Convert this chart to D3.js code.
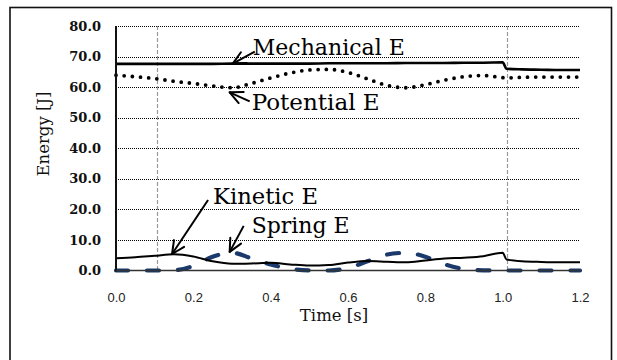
<!DOCTYPE html>
<html><head><meta charset="utf-8">
<script src="https://cdn.jsdelivr.net/npm/d3@7/dist/d3.min.js"></script>
<style>
html,body{margin:0;padding:0;background:#fff;}
svg{display:block;}
</style>
</head><body>
<svg id="chart" width="617" height="360"></svg>
<script>
// ---- data ----
const time      = [0,0.05,0.1,0.15,0.2,0.25,0.3,0.35,0.4,0.45,0.5,0.55,0.6,0.65,0.7,0.75,0.8,0.85,0.9,0.95,1.0,1.01,1.05,1.1,1.15,1.2];
const mechanical= [67.6,67.6,67.6,67.6,67.6,67.6,67.7,67.7,67.7,67.7,67.7,67.8,67.8,67.8,67.8,67.9,67.9,67.9,68.0,68.0,68.1,66.0,65.8,65.7,65.6,65.6];
const potential = [63.9,63.4,62.8,61.9,61.2,60.4,59.8,61.2,63.0,64.6,65.6,65.8,64.8,62.7,60.6,59.8,60.8,62.3,63.4,63.8,63.1,63.0,63.2,63.3,63.3,63.3];
const kinetic   = [4.0,4.3,4.8,5.3,4.6,3.0,2.2,2.3,2.5,2.0,1.6,1.8,2.6,3.1,2.9,2.7,3.3,3.9,4.2,4.7,5.8,3.6,3.0,2.8,2.7,2.7];
const spring    = [0,0,0,0.1,1.5,4.5,5.8,4.0,2.0,0.6,0.05,0,0.8,3.0,5.2,5.8,4.5,2.0,0.5,0.05,0,0,0,0,0,0];
const xTicks    = [0,0.2,0.4,0.6,0.8,1.0,1.2];
const yTicks    = [0,10,20,30,40,50,60,70,80];
const eventTimes= [0.105,1.01];
const labels    = ["Mechanical E","Potential E","Kinetic E","Spring E"];
const labelTipT = [0.302,0.294,0.145,0.294];
const labelTipV = [67.7,58.3,5.4,6.1];
const xTitle = "Time [s]";
const yTitle = "Energy [J]";

// ---- layout ----
const svg = d3.select("#chart");
const x = d3.scaleLinear().domain([0,1.2]).range([116,580]);
const y = d3.scaleLinear().domain([0,80]).range([270.5,26]);

// outer frame
svg.append("rect").attr("x",10).attr("y",7.5).attr("width",601.5).attr("height",370)
  .attr("fill","none").attr("stroke","#111").attr("stroke-width",1.6);

// horizontal gridlines
svg.append("g").selectAll("line").data(yTicks.filter(d=>d>0)).join("line")
  .attr("x1",x(0)).attr("x2",x(1.2)).attr("y1",d=>Math.round(y(d))+0.5).attr("y2",d=>Math.round(y(d))+0.5)
  .attr("stroke","#000").attr("stroke-width",1).attr("stroke-dasharray","1 1");

// vertical event lines
svg.append("g").selectAll("line").data(eventTimes).join("line")
  .attr("x1",d=>Math.round(x(d))+0.5).attr("x2",d=>Math.round(x(d))+0.5).attr("y1",y(80)).attr("y2",y(0))
  .attr("stroke","#999").attr("stroke-width",1.2).attr("stroke-dasharray","4 2");

// axes
const yAxis = d3.axisLeft(y).tickValues(yTicks).tickSize(0).tickPadding(15).tickFormat(d3.format(".1f"));
const gy = svg.append("g").attr("transform",`translate(${x(0)},0)`).call(yAxis);
gy.select(".domain").remove();
gy.selectAll("text").attr("font-family","DejaVu Serif").attr("font-weight","bold").attr("font-size",13).attr("fill","#111");

const xAxis = d3.axisBottom(x).tickValues(xTicks).tickSize(0).tickPadding(22).tickFormat(d3.format(".1f"));
const gx = svg.append("g").attr("transform",`translate(0,${y(0)})`).call(xAxis);
gx.select(".domain").remove();
gx.selectAll("text").attr("font-family","Liberation Sans").attr("font-size",13).attr("fill","#222");

// series lines
const pts = vals => time.map((t,i)=>[t,vals[i]]);
const line = d3.line().x(d=>x(d[0])).y(d=>y(d[1])).curve(d3.curveMonotoneX);

svg.append("path").datum(pts(spring)).attr("d",line).attr("fill","none")
  .attr("stroke","#1b3a6b").attr("stroke-width",4.2).attr("stroke-linecap","round").attr("stroke-dasharray","12 19");
svg.append("path").datum(pts(kinetic)).attr("d",line).attr("fill","none")
  .attr("stroke","#000").attr("stroke-width",2);
svg.append("path").datum(pts(potential)).attr("d",line).attr("fill","none")
  .attr("stroke","#000").attr("stroke-width",3.8).attr("stroke-linecap","round").attr("stroke-dasharray","0 8.2");
svg.append("path").datum(pts(mechanical)).attr("d",line).attr("fill","none")
  .attr("stroke","#000").attr("stroke-width",2.6);

// axis lines
svg.append("line").attr("x1",x(0)).attr("x2",x(0)).attr("y1",y(80)).attr("y2",y(0)+1)
  .attr("stroke","#111").attr("stroke-width",2);
svg.append("line").attr("x1",x(0)).attr("x2",x(1.2)).attr("y1",y(0)).attr("y2",y(0))
  .attr("stroke","#333").attr("stroke-width",1.6);

// axis titles
svg.append("text").attr("x",334).attr("y",321).attr("text-anchor","middle")
  .attr("font-family","DejaVu Serif").attr("font-size",16.5).attr("fill","#111").text(xTitle);
svg.append("text").attr("transform","translate(49,134) rotate(-90)").attr("text-anchor","middle")
  .attr("font-family","DejaVu Serif").attr("font-size",16.5).attr("fill","#111").text(yTitle);

// annotations: text offset (dx,dy) and arrow tail offset from the tip, in pixels
const textOff = [[20,-9],[22,18],[41,-50],[22,-19]];
const tailOff = [[22,-12],[20,9],[36,-54],[14,-26]];
const textLen = [152,128,105,98];
const ann = svg.append("g");
labels.forEach((lab,i)=>{
  const tx = x(labelTipT[i]), ty = y(labelTipV[i]);
  const sx = tx + tailOff[i][0], sy = ty + tailOff[i][1];
  ann.append("line").attr("x1",sx).attr("y1",sy).attr("x2",tx).attr("y2",ty)
    .attr("stroke","#000").attr("stroke-width",2);
  const ang = Math.atan2(sy-ty, sx-tx);
  [0.45,-0.45].forEach(a=>{
    ann.append("line").attr("x1",tx).attr("y1",ty)
      .attr("x2",tx+14*Math.cos(ang+a)).attr("y2",ty+14*Math.sin(ang+a))
      .attr("stroke","#000").attr("stroke-width",2).attr("stroke-linecap","round");
  });
  ann.append("text").attr("x",tx+textOff[i][0]).attr("y",ty+textOff[i][1])
    .attr("font-family","DejaVu Serif").attr("font-size",22).attr("fill","#000")
    .attr("textLength",textLen[i]).attr("lengthAdjust","spacingAndGlyphs").text(lab);
});
</script>
</body></html>
